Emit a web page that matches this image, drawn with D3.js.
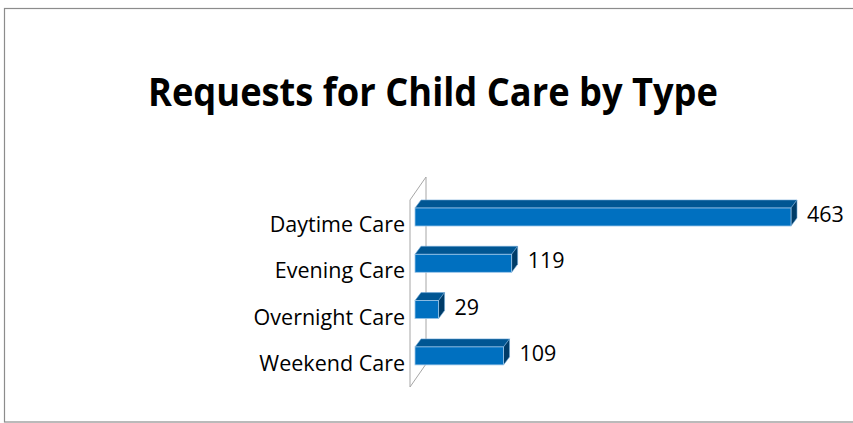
<!DOCTYPE html>
<html>
<head>
<meta charset="utf-8">
<script src="https://cdn.jsdelivr.net/npm/d3@7"></script>
<style>
  body { margin: 0; background: #fff; }
  svg text { font-family: "Open Sans", Lato, sans-serif; fill: #000; }
</style>
</head>
<body>
<div id="chart"></div>
<script>
const categories = ["Daytime Care", "Evening Care", "Overnight Care", "Weekend Care"];
const requests = [463, 119, 29, 109];
const chartTitle = "Requests for Child Care by Type";

const width = 853, height = 423;
const depth = { x: 6, y: 8 };

const svg = d3.select("#chart").append("svg")
    .attr("width", width)
    .attr("height", height);

// chart area border
svg.append("rect")
    .attr("x", 4.5).attr("y", 8.5)
    .attr("width", width + 10).attr("height", 413.5)
    .attr("fill", "#fff")
    .attr("stroke", "#8c8c8c")
    .attr("stroke-width", 1.2);

svg.append("text")
    .attr("x", 433)
    .attr("y", 106)
    .attr("text-anchor", "middle")
    .attr("font-weight", "bold")
    .attr("font-size", 39)
    .attr("textLength", 570)
    .attr("lengthAdjust", "spacingAndGlyphs")
    .text(chartTitle);

const xScale = d3.scaleLinear()
    .domain([0, d3.max(requests)])
    .range([415, 791]);

const yScale = d3.scaleBand()
    .domain(categories)
    .range([193.85, 379.05])
    .paddingInner(0.611)
    .paddingOuter(0.3056);

const data = categories.map((c, i) => ({ category: c, value: requests[i] }));

// side wall of the 3D plot
const wall = svg.append("g")
    .attr("fill", "none")
    .attr("stroke", "#a6a6a6")
    .attr("stroke-width", 1);
wall.append("path").attr("d", "M410,200 L426,177 L426,364 L410,387 Z");

// category axis labels
svg.append("g")
    .selectAll("text")
    .data(data)
    .enter().append("text")
    .attr("x", 405)
    .attr("y", d => yScale(d.category) + yScale.bandwidth() / 2 + 15)
    .attr("text-anchor", "end")
    .attr("font-size", 21.5)
    .text(d => d.category);

const bars = svg.append("g")
    .selectAll("g")
    .data(data)
    .enter().append("g");

const x0 = xScale(0);
const bh = yScale.bandwidth();

// top face
bars.append("path")
    .attr("d", d => {
        const y = yScale(d.category), x1 = xScale(d.value);
        return `M${x0},${y} L${x0 + depth.x},${y - depth.y} L${x1 + depth.x},${y - depth.y} L${x1},${y} Z`;
    })
    .attr("fill", "#005693")
    .attr("stroke", "#6fa8d6")
    .attr("stroke-width", 0.6);

// side face
bars.append("path")
    .attr("d", d => {
        const y = yScale(d.category), x1 = xScale(d.value);
        return `M${x1},${y} L${x1 + depth.x},${y - depth.y} L${x1 + depth.x},${y + bh - depth.y} L${x1},${y + bh} Z`;
    })
    .attr("fill", "#003c68")
    .attr("stroke", "#6fa8d6")
    .attr("stroke-width", 0.6);

// front face
bars.append("rect")
    .attr("x", x0)
    .attr("y", d => yScale(d.category))
    .attr("width", d => xScale(d.value) - x0)
    .attr("height", bh)
    .attr("fill", "#0070c0")
    .attr("stroke", "#9cc6e8")
    .attr("stroke-width", 0.8);

// value labels
bars.append("text")
    .attr("x", d => xScale(d.value) + depth.x + 10)
    .attr("y", d => yScale(d.category) + bh / 2 + 5)
    .attr("font-size", 21.5)
    .text(d => d.value);
</script>
</body>
</html>
